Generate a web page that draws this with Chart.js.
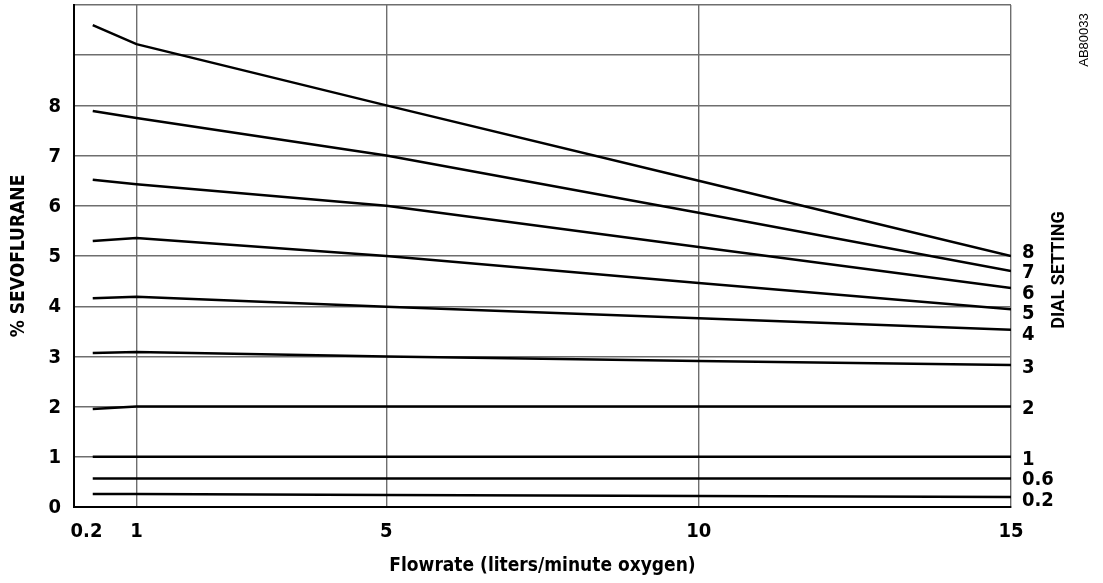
<!DOCTYPE html>
<html>
<head>
<meta charset="utf-8">
<script src="https://cdn.jsdelivr.net/npm/chart.js@4/dist/chart.umd.min.js"></script>
<style>
  html, body { margin: 0; padding: 0; background: #fff; }
  #wrap { width: 1103px; height: 583px; position: relative; }
</style>
</head>
<body>
<div id="wrap"><canvas id="c"></canvas></div>
<script>
// ---- data ----
const flowrates = [0.3, 1, 5, 10, 15];
const xTickValues = [0.2, 1, 5, 10, 15];
const yTickLabelMax = 8;
const dialSettings = ['8', '7', '6', '5', '4', '3', '2', '1', '0.6', '0.2'];
const dial8  = [9.60, 9.22, 8.00, 6.50, 5.00];
const dial7  = [7.89, 7.75, 7.00, 5.86, 4.70];
const dial6  = [6.52, 6.43, 6.00, 5.18, 4.36];
const dial5  = [5.30, 5.36, 5.00, 4.46, 3.94];
const dial4  = [4.16, 4.19, 3.99, 3.76, 3.53];
const dial3  = [3.07, 3.09, 3.00, 2.91, 2.83];
const dial2  = [1.95, 2.00, 2.00, 2.00, 2.00];
const dial1  = [1.00, 1.00, 1.00, 1.00, 1.00];
const dial06 = [0.57, 0.57, 0.57, 0.57, 0.57];
const dial02 = [0.26, 0.26, 0.24, 0.22, 0.20];
const seriesValues = [dial8, dial7, dial6, dial5, dial4, dial3, dial2, dial1, dial06, dial02];

const xTitle = 'Flowrate (liters/minute oxygen)';
const yTitle = '% SEVOFLURANE';
const rightTitle = 'DIAL SETTING';
const figureCode = 'AB80033';

const NARROW = "'Liberation Sans Narrow', 'DejaVu Sans Condensed', 'Liberation Sans', sans-serif";

const datasets = seriesValues.map((vals, i) => ({
  label: dialSettings[i],
  data: flowrates.map((x, j) => ({ x: x, y: vals[j] })),
  borderColor: '#000',
  borderWidth: 2.5,
  pointRadius: 0,
  tension: 0,
  fill: false
}));

const endLabels = {
  id: 'endLabels',
  afterDatasetsDraw(chart) {
    const ctx = chart.ctx;
    const area = chart.chartArea;
    const items = chart.data.datasets.map((ds, i) => {
      const meta = chart.getDatasetMeta(i);
      const pt = meta.data[meta.data.length - 1];
      return { text: ds.label, y: pt.y, pos: pt.y };
    }).sort((a, b) => a.y - b.y);
    const gap = 20.5;
    let clusters = items.map(it => ({ items: [it] }));
    const layout = c => {
      const n = c.items.length;
      const mean = c.items.reduce((s, it) => s + it.y, 0) / n;
      const start = mean - gap * (n - 1) / 2;
      c.items.forEach((it, k) => it.pos = start + k * gap);
    };
    clusters.forEach(layout);
    let changed = true;
    while (changed) {
      changed = false;
      for (let k = 0; k < clusters.length - 1; k++) {
        const a = clusters[k], b = clusters[k + 1];
        const lastA = a.items[a.items.length - 1].pos;
        const firstB = b.items[0].pos;
        if (firstB - lastA < gap - 0.01) {
          a.items = a.items.concat(b.items);
          clusters.splice(k + 1, 1);
          layout(a);
          changed = true;
          break;
        }
      }
    }
    ctx.save();
    ctx.fillStyle = '#000';
    ctx.font = "bold 20px " + NARROW;
    ctx.textAlign = 'left';
    ctx.textBaseline = 'middle';
    items.forEach(it => ctx.fillText(it.text, area.right + 11, it.pos + 2.5));

    ctx.save();
    ctx.translate(1059, 270);
    ctx.rotate(-Math.PI / 2);
    ctx.font = "bold 18px 'Roboto', 'Liberation Sans', sans-serif";
    ctx.textAlign = 'center';
    ctx.textBaseline = 'middle';
    ctx.fillText(rightTitle, 0, 0);
    ctx.restore();

    ctx.save();
    ctx.translate(1084, 40);
    ctx.rotate(-Math.PI / 2);
    ctx.font = "13px 'Liberation Sans', Arial, sans-serif";
    ctx.textAlign = 'center';
    ctx.textBaseline = 'middle';
    ctx.fillText(figureCode, 0, 0);
    ctx.restore();
    ctx.restore();
  }
};

new Chart(document.getElementById('c'), {
  type: 'line',
  data: { datasets: datasets },
  options: {
    responsive: true,
    maintainAspectRatio: false,
    animation: false,
    devicePixelRatio: 1,
    layout: { padding: { top: 5, right: 92, left: 0, bottom: 0 } },
    plugins: { legend: { display: false }, tooltip: { enabled: false } },
    scales: {
      x: {
        type: 'linear',
        min: 0,
        max: 15,
        afterBuildTicks(scale) {
          scale.ticks = xTickValues.map(v => ({ value: v }));
        },
        afterFit(scale) { scale.height = 76; scale.paddingLeft = 0; scale.paddingRight = 0; },
        ticks: {
          autoSkip: false,
          maxRotation: 0,
          padding: 13,
          color: '#000',
          font: { family: NARROW, size: 20, weight: 'bold' },
          callback: v => String(v)
        },
        grid: {
          drawTicks: false,
          color: c => (c.tick && c.tick.value === 0.2) ? 'rgba(0,0,0,0)' : '#6e6e6e',
          lineWidth: 1.4
        },
        border: { display: true, color: '#000', width: 2 },
        title: {
          display: true,
          text: xTitle,
          color: '#000',
          font: { family: NARROW, size: 19, weight: 'bold' },
          padding: { top: 8, bottom: 6 }
        }
      },
      y: {
        type: 'linear',
        min: 0,
        max: 10,
        afterFit(scale) { scale.width = 74; scale.paddingTop = 0; scale.paddingBottom = 0; },
        ticks: {
          stepSize: 1,
          padding: 13,
          labelOffset: 1,
          color: '#000',
          font: { family: NARROW, size: 20, weight: 'bold' },
          callback: v => (v <= yTickLabelMax ? String(v) : '')
        },
        grid: {
          drawTicks: false,
          color: '#6e6e6e',
          lineWidth: 1.4
        },
        border: { display: true, color: '#000', width: 2 },
        title: {
          display: true,
          text: yTitle,
          color: '#000',
          font: { family: NARROW, size: 19, weight: 'bold' },
          padding: { top: 8, bottom: 0 }
        }
      }
    }
  },
  plugins: [endLabels]
});
</script>
</body>
</html>
